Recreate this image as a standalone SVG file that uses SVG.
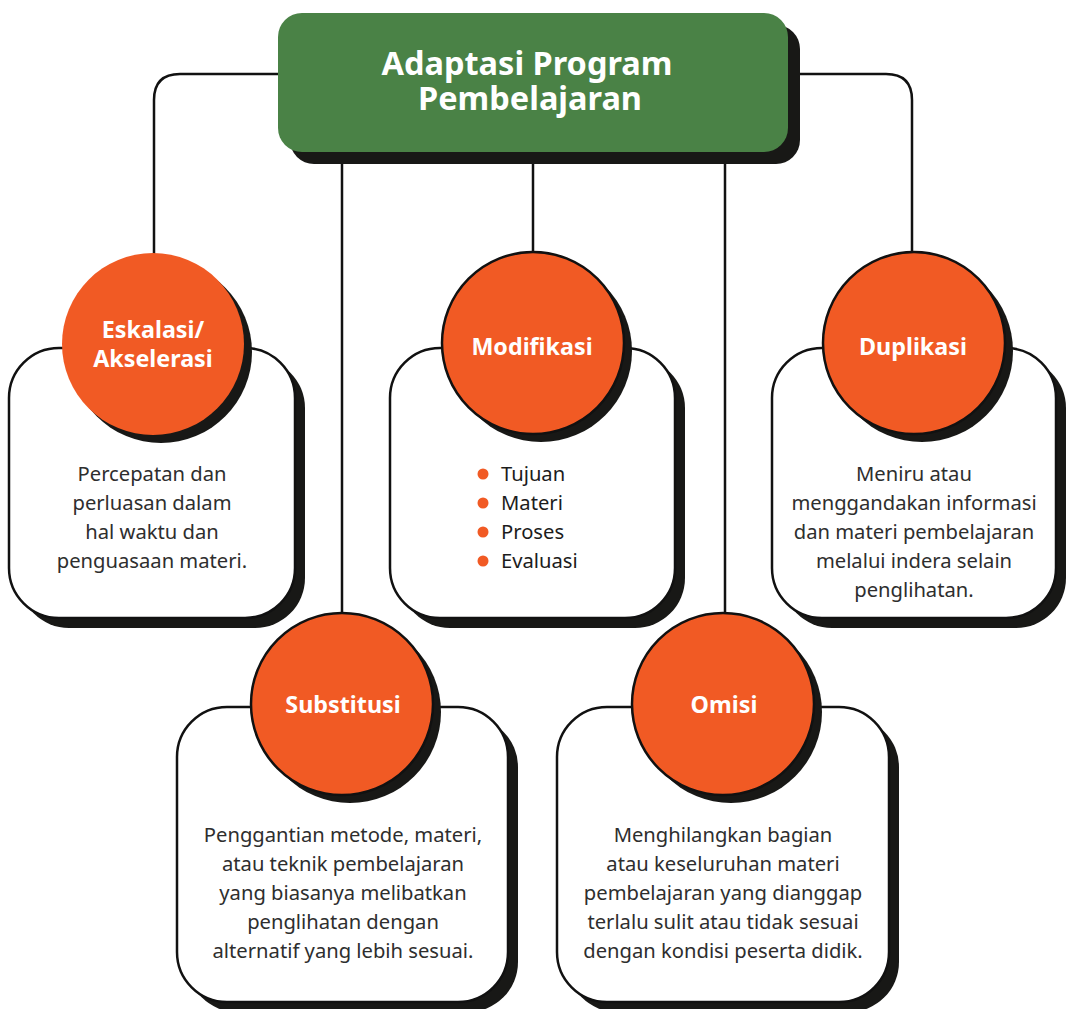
<svg xmlns="http://www.w3.org/2000/svg" width="1069" height="1009" viewBox="0 0 1069 1009">
<style>
.conn{fill:none;stroke:#111;stroke-width:2.5}
.shadow{fill:#181816}
.card{fill:#fff;stroke:#111;stroke-width:2.5}
.circ{fill:#f15a24;stroke:#111;stroke-width:2.5}
.circ0{fill:#f15a24}
.lbl{font-family:"Noto Sans","Open Sans",sans-serif;font-weight:700;font-size:23.3px;fill:#fff;text-anchor:middle}
.title{font-family:"Noto Sans","Open Sans",sans-serif;font-weight:700;font-size:32.5px;fill:#fff;text-anchor:middle}
.body{font-family:"Noto Sans","Open Sans",sans-serif;font-size:20.2px;fill:#2e2e2e;text-anchor:middle}
.bul{font-family:"Noto Sans","Open Sans",sans-serif;font-size:20.2px;fill:#1c1c1c}
.dot{fill:#f15a24}
</style>
<rect width="1069" height="1009" fill="#fff"/>
<g id="connectors">
<path class="conn" d="M280,74 H180 Q154,74 154,100 V256"/>
<path class="conn" d="M786,74 H886 Q912,74 912,100 V256"/>
<path class="conn" d="M342,150 V614"/>
<path class="conn" d="M533,150 V254"/>
<path class="conn" d="M725,150 V620"/>
</g>
<g id="title">
<rect class="shadow" x="290" y="25" width="510" height="139" rx="24"/>
<rect x="278" y="13" width="510" height="139" rx="24" fill="#4a8246"/>
<text class="title" x="527" y="75">Adaptasi Program</text>
<text class="title" x="530" y="110">Pembelajaran</text>
</g>
<g id="eskalasi">
<rect class="shadow" x="19" y="358" width="286" height="270" rx="50"/>
<rect class="card" x="9" y="348" width="286" height="270" rx="50"/>
<circle class="shadow" cx="161" cy="352" r="91"/>
<circle class="circ0" cx="153" cy="344" r="91"/>
<text class="lbl" x="153" y="338">Eskalasi/</text>
<text class="lbl" x="153" y="367">Akselerasi</text>
<text class="body" x="152" y="481">Percepatan dan</text>
<text class="body" x="152" y="510">perluasan dalam</text>
<text class="body" x="152" y="539">hal waktu dan</text>
<text class="body" x="152" y="568">penguasaan materi.</text>
</g>
<g id="modifikasi">
<rect class="shadow" x="400" y="358" width="285" height="270" rx="50"/>
<rect class="card" x="390" y="348" width="285" height="270" rx="50"/>
<circle class="shadow" cx="541" cy="351" r="91"/>
<circle class="circ" cx="533" cy="343" r="91"/>
<text class="lbl" x="532" y="355">Modifikasi</text>
<circle class="dot" cx="483" cy="474" r="5.5"/>
<circle class="dot" cx="483" cy="503" r="5.5"/>
<circle class="dot" cx="483" cy="532" r="5.5"/>
<circle class="dot" cx="483" cy="561" r="5.5"/>
<text class="bul" x="501" y="481">Tujuan</text>
<text class="bul" x="501" y="510">Materi</text>
<text class="bul" x="501" y="539">Proses</text>
<text class="bul" x="501" y="568">Evaluasi</text>
</g>
<g id="duplikasi">
<rect class="shadow" x="782" y="358" width="284" height="270" rx="50"/>
<rect class="card" x="772" y="348" width="284" height="270" rx="50"/>
<circle class="shadow" cx="922" cy="351" r="91"/>
<circle class="circ" cx="914" cy="343" r="91"/>
<text class="lbl" x="913" y="355">Duplikasi</text>
<text class="body" x="914" y="481">Meniru atau</text>
<text class="body" x="914" y="510">menggandakan informasi</text>
<text class="body" x="914" y="539">dan materi pembelajaran</text>
<text class="body" x="914" y="568">melalui indera selain</text>
<text class="body" x="914" y="597">penglihatan.</text>
</g>
<g id="substitusi">
<rect class="shadow" x="187" y="717" width="331" height="295" rx="50"/>
<rect class="card" x="177" y="707" width="331" height="295" rx="50"/>
<circle class="shadow" cx="350" cy="712" r="91"/>
<circle class="circ" cx="342" cy="704" r="91"/>
<text class="lbl" x="343" y="713">Substitusi</text>
<text class="body" x="343" y="842">Penggantian metode, materi,</text>
<text class="body" x="343" y="871">atau teknik pembelajaran</text>
<text class="body" x="343" y="900">yang biasanya melibatkan</text>
<text class="body" x="343" y="929">penglihatan dengan</text>
<text class="body" x="343" y="958">alternatif yang lebih sesuai.</text>
</g>
<g id="omisi">
<rect class="shadow" x="567" y="717" width="332" height="295" rx="50"/>
<rect class="card" x="557" y="707" width="332" height="295" rx="50"/>
<circle class="shadow" cx="731" cy="712" r="91"/>
<circle class="circ" cx="723" cy="704" r="91"/>
<text class="lbl" x="724" y="713">Omisi</text>
<text class="body" x="723" y="842">Menghilangkan bagian</text>
<text class="body" x="723" y="871">atau keseluruhan materi</text>
<text class="body" x="723" y="900">pembelajaran yang dianggap</text>
<text class="body" x="723" y="929">terlalu sulit atau tidak sesuai</text>
<text class="body" x="723" y="958">dengan kondisi peserta didik.</text>
</g>
</svg>
